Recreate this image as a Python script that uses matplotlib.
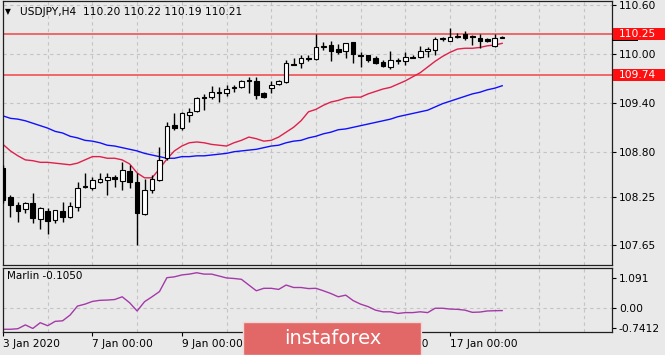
import numpy as np
import matplotlib.pyplot as plt
from matplotlib.patches import Rectangle
from matplotlib.transforms import blended_transform_factory

# USDJPY H4 candles, 3 Jan - 17 Jan 2020
opens = [108.60, 108.24, 108.15, 108.10, 108.17, 107.97, 108.07, 107.96, 108.07, 108.00,
         108.12, 108.38, 108.35, 108.43, 108.45, 108.49, 108.44, 108.56, 108.43, 108.04,
         108.33, 108.45, 108.72, 109.13, 109.09, 109.25, 109.30, 109.47, 109.47, 109.53,
         109.52, 109.58, 109.59, 109.68, 109.67, 109.52, 109.58, 109.63, 109.66, 109.88,
         109.89, 109.95, 109.94, 110.08, 110.11, 110.06, 110.04, 110.15, 109.99, 109.99,
         109.95, 109.90, 109.84, 109.93, 109.91, 109.96, 109.96, 110.04, 110.05, 110.18,
         110.16, 110.21, 110.24, 110.22, 110.20, 110.18, 110.10, 110.20]
highs = [108.64, 108.27, 108.18, 108.18, 108.29, 108.12, 108.11, 108.09, 108.18, 108.18,
         108.43, 108.54, 108.49, 108.54, 108.54, 108.51, 108.67, 108.64, 108.54, 108.47,
         108.51, 108.86, 109.16, 109.27, 109.29, 109.34, 109.47, 109.51, 109.61, 109.59,
         109.62, 109.62, 109.68, 109.72, 109.72, 109.53, 109.67, 109.68, 109.93, 109.95,
         109.99, 109.99, 110.24, 110.15, 110.16, 110.12, 110.13, 110.15, 110.02, 109.99,
         109.97, 109.93, 110.04, 109.95, 110.02, 109.99, 110.10, 110.08, 110.21, 110.21,
         110.32, 110.26, 110.28, 110.23, 110.24, 110.20, 110.24, 110.22]
lows = [108.17, 108.00, 107.94, 108.05, 107.93, 107.85, 107.79, 107.93, 107.94, 107.99,
        108.07, 108.35, 108.33, 108.42, 108.27, 108.37, 108.33, 108.35, 107.66, 108.02,
        108.29, 108.44, 108.70, 109.07, 109.07, 109.16, 109.29, 109.31, 109.45, 109.41,
        109.48, 109.53, 109.58, 109.52, 109.45, 109.46, 109.52, 109.62, 109.64, 109.86,
        109.83, 109.91, 109.93, 110.05, 109.91, 110.00, 109.95, 109.89, 109.84, 109.90,
        109.88, 109.84, 109.82, 109.88, 109.86, 109.95, 109.95, 109.96, 109.99, 110.16,
        110.16, 110.20, 110.17, 110.11, 110.07, 110.15, 110.08, 110.19]
closes = [108.21, 108.15, 108.07, 108.17, 107.99, 108.11, 107.95, 108.08, 108.00, 108.13,
          108.35, 108.37, 108.45, 108.47, 108.49, 108.47, 108.58, 108.43, 108.05, 108.33,
          108.47, 108.70, 109.12, 109.09, 109.27, 109.29, 109.46, 109.46, 109.53, 109.52,
          109.57, 109.59, 109.67, 109.67, 109.50, 109.47, 109.62, 109.67, 109.89, 109.87,
          109.95, 109.94, 110.08, 110.10, 110.04, 110.02, 110.13, 110.00, 109.98, 109.93,
          109.89, 109.85, 109.93, 109.91, 109.96, 109.95, 110.04, 110.06, 110.18, 110.19,
          110.21, 110.22, 110.20, 110.21, 110.16, 110.16, 110.20, 110.21]

# moving averages
ma_fast = [108.89, 108.81, 108.75, 108.70, 108.69, 108.67, 108.67, 108.66, 108.65, 108.64,
           108.66, 108.70, 108.74, 108.74, 108.72, 108.72, 108.70, 108.65, 108.54, 108.48,
           108.48, 108.59, 108.71, 108.81, 108.87, 108.91, 108.92, 108.91, 108.89, 108.88,
           108.87, 108.91, 108.94, 108.98, 108.96, 108.93, 108.94, 108.98, 109.04, 109.10,
           109.18, 109.29, 109.32, 109.37, 109.41, 109.43, 109.46, 109.47, 109.47, 109.51,
           109.54, 109.57, 109.59, 109.63, 109.67, 109.72, 109.77, 109.84, 109.91, 109.97,
           110.02, 110.06, 110.07, 110.07, 110.08, 110.10, 110.11, 110.13]
ma_slow = [109.24, 109.21, 109.20, 109.18, 109.15, 109.12, 109.09, 109.05, 109.03, 108.99,
           108.97, 108.94, 108.93, 108.91, 108.88, 108.87, 108.85, 108.83, 108.81, 108.78,
           108.76, 108.74, 108.72, 108.72, 108.74, 108.74, 108.75, 108.75, 108.76, 108.77,
           108.78, 108.80, 108.81, 108.82, 108.83, 108.85, 108.87, 108.88, 108.91, 108.93,
           108.94, 108.97, 108.99, 109.02, 109.04, 109.07, 109.08, 109.10, 109.12, 109.14,
           109.16, 109.18, 109.20, 109.23, 109.25, 109.27, 109.29, 109.31, 109.35, 109.39,
           109.42, 109.45, 109.48, 109.51, 109.53, 109.56, 109.58, 109.61]

# Marlin oscillator
marlin = [-0.79, -0.79, -0.77, -0.63, -0.76, -0.55, -0.66, -0.50, -0.48, -0.27,
          0.06, 0.13, 0.23, 0.27, 0.28, 0.30, 0.40, 0.18, -0.12, 0.22,
          0.40, 0.59, 1.10, 1.13, 1.20, 1.23, 1.28, 1.23, 1.23, 1.16,
          1.09, 1.07, 1.04, 0.83, 0.62, 0.71, 0.71, 0.67, 0.83, 0.74,
          0.74, 0.70, 0.71, 0.62, 0.52, 0.40, 0.46, 0.26, 0.13, 0.04,
          -0.09, -0.15, -0.15, -0.21, -0.18, -0.18, -0.15, -0.18, -0.02, -0.02,
          -0.05, -0.06, -0.09, -0.17, -0.16, -0.12, -0.11, -0.105]

levels = [110.25, 109.74]
main_ticks = [110.60, 110.00, 109.40, 108.80, 108.25, 107.65]
main_tick_labels = ['110.60', '110.00', '109.40', '108.80', '108.25', '107.65']
ind_ticks = [1.091, 0.0, -0.7412]
ind_tick_labels = ['1.091', '0.00', '-0.7412']
date_pos = [0, 12, 24, 36, 48, 60]
date_labels = ['3 Jan 2020', '7 Jan 00:00', '9 Jan 00:00', '13 Jan 00:00',
               '15 Jan 00:00', '17 Jan 00:00']

BG = '#e9e9e9'
GRID = '#c4c4c4'
W, H = 665, 355

fig = plt.figure(figsize=(6.65, 3.55), dpi=100, facecolor=BG)
ax = fig.add_axes([3 / W, 90 / H, 609 / W, 264 / H], facecolor=BG)
ax2 = fig.add_axes([3 / W, 23 / H, 609 / W, 64 / H], facecolor=BG)

o = np.array(opens)
c = np.array(closes)
x = np.arange(len(o))
up = c >= o
bottom = np.minimum(o, c)
height = np.maximum(np.abs(c - o), 0.004)

ax.vlines(x, lows, highs, color='black', lw=1, zorder=3)
ax.bar(x[up], height[up], bottom=bottom[up], width=0.62, facecolor='white',
       edgecolor='black', lw=0.8, zorder=4)
ax.bar(x[~up], height[~up], bottom=bottom[~up], width=0.62, facecolor='black',
       edgecolor='black', lw=0.8, zorder=4)

ax.plot(x, ma_fast, color='#e0204a', lw=1, zorder=2.5)
ax.plot(x, ma_slow, color='#1010ff', lw=1, zorder=2.5)
for lv in levels:
    ax.axhline(lv, color='#f06868', lw=1.4, zorder=2)

ax.set_xlim(0, 81.74)
ax.set_ylim(107.41, 110.65)
ax.set_xticks(np.arange(6, 82, 6))
ax.set_xticklabels([])
ax.set_yticks(main_ticks)
ax.set_yticklabels(main_tick_labels)
ax.yaxis.tick_right()
ax.tick_params(axis='x', length=0)
ax.tick_params(axis='y', length=3, width=0.8, pad=2, labelsize=7.7)
ax.grid(True, color=GRID, ls=(0, (3, 3)), lw=0.8, zorder=1)

# right-hand price labels
tr = blended_transform_factory(ax.transAxes, ax.transData)
ax.add_patch(Rectangle((1.0, closes[-1] - 0.05), 0.042, 0.035, transform=tr,
                       facecolor='black', edgecolor='none', clip_on=False, zorder=5))
for lv in levels:
    ax.add_patch(Rectangle((1.002, lv - 0.073), 0.09, 0.146, transform=tr,
                           facecolor='#ff1010', edgecolor='none', clip_on=False, zorder=6))
    ax.text(1.012, lv, '%.2f' % lv, transform=tr, color='white', fontsize=7.7,
            ha='left', va='center', zorder=7, clip_on=False)

# oscillator panel
ax2.plot(x, marlin, color='#a43aa8', lw=1)
ax2.set_xlim(0, 81.74)
ax2.set_ylim(-0.89, 1.454)
ax2.set_yticks(ind_ticks)
ax2.set_yticklabels(ind_tick_labels)
ax2.yaxis.tick_right()
ax2.tick_params(axis='y', length=3, width=0.8, pad=2, labelsize=7.7)
ax2.axhline(0, color=GRID, ls=(0, (3, 3)), lw=0.8, zorder=0)
ax2.set_xticks(date_pos)
ax2.set_xticklabels(date_labels, ha='left')
ax2.set_xticks(np.arange(6, 82, 6), minor=True)
ax2.tick_params(axis='x', which='major', length=3, width=0.8, pad=2, labelsize=7.7)
ax2.tick_params(axis='x', which='minor', length=0)
ax2.grid(True, which='minor', axis='x', color=GRID, ls=(0, (3, 3)), lw=0.8)
ax2.text(0.007, 0.88, 'Marlin -0.1050', transform=ax2.transAxes, fontsize=7.5,
         ha='left', va='center')

for a in (ax, ax2):
    for s in a.spines.values():
        s.set_color('#202020')
        s.set_linewidth(0.9)

fig.text(5 / W, 1 - 12 / H, '\u25bc', fontsize=5.5, ha='left', va='center')
fig.text(20 / W, 1 - 12 / H, 'USDJPY,H4  110.20 110.22 110.19 110.21',
         fontsize=7.7, ha='left', va='center')

# watermark (covers the 13 Jan / 15 Jan labels, as in the source)
fig.patches.append(Rectangle((243 / W, 0), 178 / W, 33 / H, transform=fig.transFigure,
                             facecolor='#e26767', edgecolor='#f3d6d6', lw=1, zorder=10))
fig.text(333 / W, 16 / H, 'instaforex', color='white', fontsize=14, ha='center',
         va='center', zorder=11)

fig.savefig('out.png', dpi=100, facecolor=BG)
